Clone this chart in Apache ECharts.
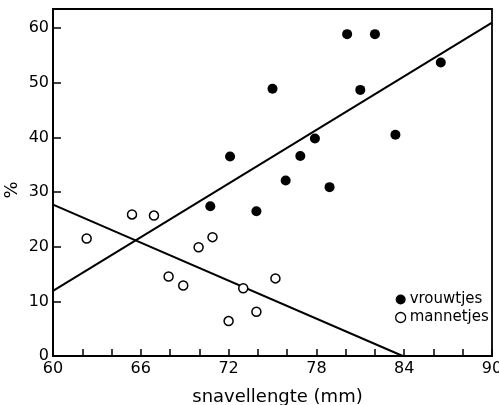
<!DOCTYPE html>
<html>
<head>
<meta charset="utf-8">
<script src="https://cdn.jsdelivr.net/npm/echarts@6/dist/echarts.min.js"></script>
<style>html,body{margin:0;padding:0;background:#fff}#c{width:499px;height:405px}</style>
</head>
<body>
<div id="c"></div>
<script>
const vrouwtjes = [
  [72.1, 36.5], [80.1, 58.9], [82.0, 58.9], [86.5, 53.7], [75.0, 48.9],
  [81.0, 48.7], [77.9, 39.8], [83.4, 40.5], [76.9, 36.6], [75.9, 32.1],
  [78.9, 30.9], [70.75, 27.4], [73.9, 26.5]
];
const mannetjes = [
  [62.3, 21.5], [65.4, 25.9], [66.9, 25.7], [70.9, 21.75], [69.95, 19.9],
  [67.9, 14.55], [68.9, 12.9], [73.0, 12.4], [72.0, 6.4], [75.2, 14.2],
  [73.9, 8.1]
];
const lijnVrouwtjes = [[60, 11.9], [90, 61.0]];
const lijnMannetjes = [[60, 27.7], [83.9, 0]];
const xTicks = [60, 66, 72, 78, 84, 90];
const yTicks = [0, 10, 20, 30, 40, 50, 60];

const font = 'DejaVu Sans';
const chart = echarts.init(document.getElementById('c'));
chart.setOption({
  animation: false,
  backgroundColor: '#fff',
  grid: { left: 53, right: 7, top: 9, bottom: 49, show: true, borderColor: '#000', borderWidth: 1.8,
    containLabel: false, outerBoundsMode: 'none' },
  legend: {
    left: 390, top: 287, orient: 'vertical', itemGap: 3,
    itemWidth: 10, itemHeight: 10, icon: 'circle',
    textStyle: { fontFamily: font, fontSize: 15, color: '#000', padding: [0, 0, 0, -1] },
    data: [
      { name: 'vrouwtjes' },
      { name: 'mannetjes', itemStyle: { color: '#fff', borderColor: '#000', borderWidth: 1.3 } }
    ]
  },
  xAxis: {
    type: 'value', min: 60, max: 90, interval: 2,
    name: 'snavellengte (mm)', nameLocation: 'middle', nameGap: 32, nameMoveOverlap: false,
    nameTextStyle: { fontFamily: font, fontSize: 18, color: '#000', padding: [0, 0, 0, 10] },
    axisLine: { lineStyle: { color: '#000', width: 1.8 } },
    axisTick: { inside: true, length: 7, lineStyle: { color: '#000', width: 1.5 } },
    axisLabel: { fontFamily: font, fontSize: 16, color: '#000', margin: 5,
      formatter: v => xTicks.indexOf(v) >= 0 ? String(v) : '' },
    splitLine: { show: false }
  },
  yAxis: {
    type: 'value', min: 0, max: 63.5, interval: 10,
    name: '%', nameLocation: 'middle', nameGap: 32, nameRotate: 90, nameMoveOverlap: false,
    nameTextStyle: { fontFamily: font, fontSize: 18, color: '#000', padding: [0, 15, 0, 0] },
    axisLine: { lineStyle: { color: '#000', width: 1.8 } },
    axisTick: { inside: true, length: 8, lineStyle: { color: '#000', width: 1.5 } },
    axisLabel: { fontFamily: font, fontSize: 16, color: '#000', margin: 4,
      formatter: v => yTicks.indexOf(v) >= 0 ? String(v) : '' },
    splitLine: { show: false }
  },
  series: [
    { type: 'line', data: lijnVrouwtjes, symbol: 'none', lineStyle: { color: '#000', width: 2 }, silent: true },
    { type: 'line', data: lijnMannetjes, symbol: 'none', lineStyle: { color: '#000', width: 2 }, silent: true },
    { name: 'vrouwtjes', type: 'scatter', data: vrouwtjes, symbol: 'circle', symbolSize: 10,
      itemStyle: { color: '#000', opacity: 1 }, z: 5 },
    { name: 'mannetjes', type: 'scatter', data: mannetjes, symbol: 'circle', symbolSize: 9,
      itemStyle: { color: '#fff', borderColor: '#000', borderWidth: 1.5, opacity: 1 }, z: 5 }
  ]
});
</script>
</body>
</html>
